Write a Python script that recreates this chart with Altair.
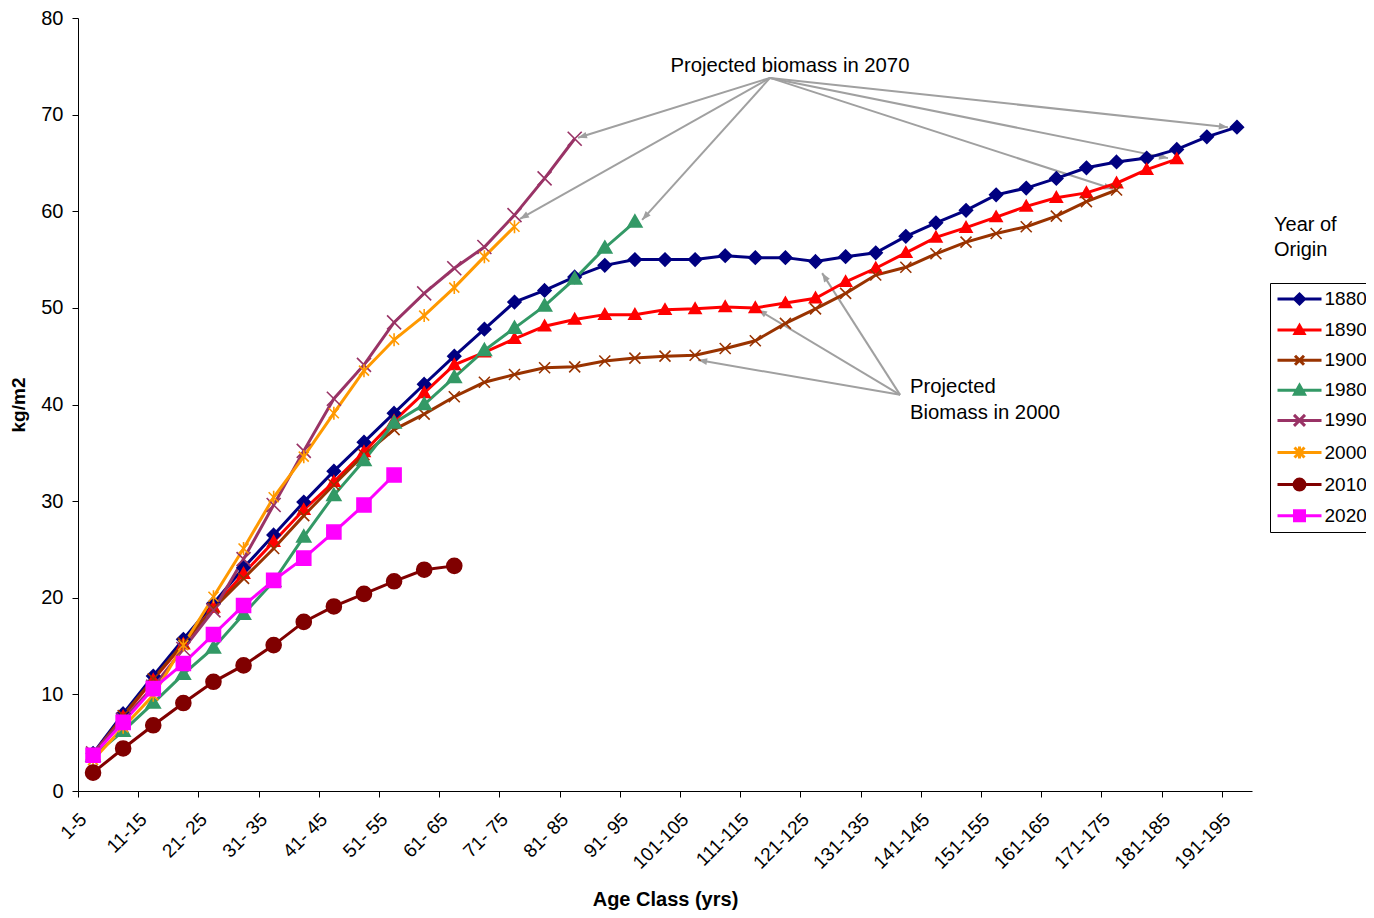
import math
import altair as alt
import pandas as pd

# ---------------- data ----------------
age_classes = ["1-5", "6-10", "11-15", "16-20", "21- 25", "26- 30", "31- 35", "36- 40",
               "41- 45", "46- 50", "51- 55", "56- 60", "61- 65", "66- 70", "71- 75",
               "76- 80", "81- 85", "86- 90", "91- 95", "96-100", "101-105", "106-110",
               "111-115", "116-120", "121-125", "126-130", "131-135", "136-140",
               "141-145", "146-150", "151-155", "156-160", "161-165", "166-170",
               "171-175", "176-180", "181-185", "186-190", "191-195"]

years = ["1880", "1890", "1900", "1980", "1990", "2000", "2010", "2020"]
colors = ["#000080", "#FF0000", "#993300", "#339966", "#993366", "#FF9900", "#800000", "#FF00FF"]

b1880 = [3.9, 8.0, 11.9, 15.7, 19.4, 23.1, 26.5, 29.9, 33.1, 36.1,
         39.1, 42.1, 45.0, 47.8, 50.6, 51.8, 53.2, 54.4, 55.0, 55.0,
         55.0, 55.4, 55.2, 55.2, 54.8, 55.3, 55.7, 57.4, 58.8, 60.1,
         61.7, 62.4, 63.4, 64.5, 65.1, 65.5, 66.4, 67.7, 68.7]
b1890 = [3.8, 7.7, 11.5, 15.2, 19.0, 22.5, 25.8, 29.1, 32.0, 35.1,
         38.3, 41.2, 44.1, 45.4, 46.8, 48.1, 48.8, 49.3, 49.3, 49.8,
         49.9, 50.1, 50.0, 50.5, 51.0, 52.7, 54.1, 55.7, 57.3, 58.3,
         59.4, 60.5, 61.4, 61.9, 62.9, 64.3, 65.4]
b1900 = [3.7, 7.8, 11.6, 15.3, 18.9, 22.0, 25.1, 28.5, 31.7, 34.8,
         37.4, 39.0, 40.8, 42.3, 43.1, 43.8, 43.9, 44.5, 44.8, 45.0,
         45.1, 45.8, 46.6, 48.4, 49.9, 51.5, 53.4, 54.2, 55.6, 56.8,
         57.7, 58.4, 59.5, 61.0, 62.2]
b1980 = [3.6, 6.2, 9.1, 12.1, 14.8, 18.3, 21.7, 26.3, 30.6, 34.2,
         38.1, 40.0, 42.8, 45.6, 47.9, 50.2, 53.0, 56.2, 58.9]
b1990 = [3.9, 7.4, 10.8, 14.7, 18.7, 24.0, 29.6, 35.2, 40.6, 44.1,
         48.5, 51.5, 54.1, 56.3, 59.6, 63.4, 67.5]
b2000 = [3.2, 6.6, 9.9, 15.1, 20.1, 25.1, 30.4, 34.6, 39.1, 43.5,
         46.7, 49.2, 52.1, 55.3, 58.4]
b2010 = [1.9, 4.4, 6.8, 9.1, 11.3, 13.0, 15.1, 17.5, 19.1, 20.4,
         21.7, 22.9, 23.3]
b2020 = [3.7, 7.1, 10.6, 13.2, 16.2, 19.2, 21.8, 24.1, 26.8, 29.6, 32.7]

series = {"1880": b1880, "1890": b1890, "1900": b1900, "1980": b1980,
          "1990": b1990, "2000": b2000, "2010": b2010, "2020": b2020}

# annotation anchors (age-class index, kg/m2)
ann2070_text = (23.15, 75.0)
ann2070_from = (22.49, 73.8)
ann2070_to = [(16.11, 67.6), (14.18, 59.2), (18.24, 59.1),
              (37.70, 68.7), (35.71, 65.5), (33.88, 62.3)]
ann2000_text = [(27.14, 41.8, "Projected"), (27.14, 39.1, "Biomass in 2000")]
ann2000_from = (26.81, 41.0)
ann2000_to = [(24.22, 53.6), (22.09, 49.8), (20.10, 44.6)]

# ---------------- layout / styles ----------------
FONT = "Liberation Sans"
W, H = 1174, 773
PX_X = W / 39.0
PX_Y = H / 80.0

rows = []
for yr in years:
    for i, v in enumerate(series[yr]):
        rows.append({"year": yr, "idx": i, "age": age_classes[i], "v": v})
df = pd.DataFrame(rows)

arrows = []
for (x2, y2) in ann2070_to:
    arrows.append((ann2070_from[0], ann2070_from[1], x2, y2))
for (x2, y2) in ann2000_to:
    arrows.append((ann2000_from[0], ann2000_from[1], x2, y2))
arr_rows = []
for (x1, y1, x2, y2) in arrows:
    dx = (x2 - x1) * PX_X
    dy = -(y2 - y1) * PX_Y
    ang = math.degrees(math.atan2(dy, dx)) % 360
    arr_rows.append({"x1": x1, "y1": y1, "x2": x2, "y2": y2, "ang": ang})
arr_df = pd.DataFrame(arr_rows)

xs = alt.Scale(domain=[-0.5, 38.5], nice=False, zero=False)
ys = alt.Scale(domain=[0, 80], nice=False, zero=True)
cscale = alt.Scale(domain=years, range=colors)

point_paths = [
    "M0,-1.3L1.3,0L0,1.3L-1.3,0Z",
    "M0,-1.2L1.2,0.9L-1.2,0.9Z",
    "M-1.1,-1.1L1.1,1.1M1.1,-1.1L-1.1,1.1",
    "M0,-1.4L1.4,1L-1.4,1Z",
    "M-1.4,-1.4L1.4,1.4M1.4,-1.4L-1.4,1.4",
    "M-1,-1L1,1M1,-1L-1,1M0,-1.3L0,1.3",
    "M-1.5,0A1.5,1.5,0,1,1,1.5,0A1.5,1.5,0,1,1,-1.5,0Z",
    "M-1.4,-1.4H1.4V1.4H-1.4Z",
]
LN = "M-0.85,0H3.55"
legend_paths = [
    LN + "M1.35,-0.5L1.85,0L1.35,0.5L0.85,0Z",
    LN + "M1.35,-0.45L1.8,0.35L0.9,0.35Z",
    LN + "M0.9,-0.45L1.8,0.45M1.8,-0.45L0.9,0.45",
    LN + "M1.35,-0.5L1.85,0.4L0.85,0.4Z",
    LN + "M0.8,-0.55L1.9,0.55M1.9,-0.55L0.8,0.55",
    LN + "M0.85,-0.5L1.85,0.5M1.85,-0.5L0.85,0.5M1.35,-0.6L1.35,0.6",
    LN + "M0.8,0A0.55,0.55,0,1,1,1.9,0A0.55,0.55,0,1,1,0.8,0Z",
    LN + "M0.85,-0.5H1.85V0.5H0.85Z",
]

# ticks at category boundaries; every other category labelled at its centre
x_values = [i - 0.5 for i in range(40)]
label_expr = "''"
for i in range(len(age_classes) - 1, -1, -1):
    if i % 2 == 0:
        label_expr = f"datum.value == {i - 0.5} ? '{age_classes[i]}' : ({label_expr})"

xaxis = alt.Axis(
    values=x_values, grid=False, tickSize=6, tickColor="black", domainColor="black",
    labelExpr=label_expr,
    labelAngle=315, labelAlign="right", labelBaseline="middle",
    labelFontSize=19, labelFont=FONT, labelColor="black",
    labelPadding=19, labelOffset=5, labelOverlap=False, labelBound=False, labelFlush=False,
    title="Age Class (yrs)", titleFont=FONT, titleFontSize=20, titleFontWeight="bold",
    titleColor="black", titleY=108, titleBaseline="middle",
)
yaxis = alt.Axis(
    values=list(range(0, 81, 10)), grid=False, tickSize=6, tickColor="black",
    domainColor="black", labelFontSize=20, labelFont=FONT, labelColor="black",
    labelPadding=9,
    title="kg/m2", titleFont=FONT, titleFontSize=19, titleFontWeight="bold",
    titleColor="black", titleX=-60, titleY=H / 2, titleAngle=270,
    titleAlign="center", titleBaseline="middle",
)

lines = alt.Chart(df).mark_line(strokeWidth=3).encode(
    x=alt.X("idx:Q", scale=xs, axis=xaxis),
    y=alt.Y("v:Q", scale=ys, axis=yaxis),
    color=alt.Color("year:N", scale=cscale, legend=None),
)

points = alt.Chart(df).mark_point(filled=True, size=100, strokeWidth=1.6, opacity=1).encode(
    x=alt.X("idx:Q", scale=xs),
    y=alt.Y("v:Q", scale=ys),
    color=alt.Color("year:N", scale=cscale, legend=None),
    stroke=alt.Stroke("year:N", scale=cscale, legend=None),
    shape=alt.Shape("year:N", scale=alt.Scale(domain=years, range=point_paths), legend=None),
)

leg = alt.Legend(
    orient="none", legendX=1192, legendY=265, title=None,
    padding=4.5, symbolSize=400, symbolStrokeWidth=3, symbolOpacity=1,
    labelFont=FONT, labelFontSize=19, labelColor="black", labelOffset=27,
    rowPadding=8.1, strokeColor="black", fillColor="white", cornerRadius=0,
    labelLimit=0,
)
legend_layer = alt.Chart(df).transform_filter("datum.v < -999").mark_point(
    filled=True, size=400, strokeWidth=3, opacity=1
).encode(
    x=alt.X("idx:Q", scale=xs),
    y=alt.Y("v:Q", scale=ys),
    color=alt.Color("year:N", scale=cscale, legend=leg),
    stroke=alt.Stroke("year:N", scale=cscale, legend=leg),
    shape=alt.Shape("year:N", scale=alt.Scale(domain=years, range=legend_paths), legend=leg),
)

ARROW = "#A0A0A0"
rules = alt.Chart(arr_df).mark_rule(color=ARROW, strokeWidth=2).encode(
    x=alt.X("x1:Q", scale=xs), y=alt.Y("y1:Q", scale=ys), x2="x2:Q", y2="y2:Q"
)
heads = alt.Chart(arr_df).mark_point(
    filled=True, shape="M0,0L-2,-0.75L-2,0.75Z", size=81, color=ARROW, opacity=1
).encode(
    x=alt.X("x2:Q", scale=xs), y=alt.Y("y2:Q", scale=ys),
    angle=alt.Angle("ang:Q", scale=None),
)

t2070 = alt.Chart(pd.DataFrame([{"x": ann2070_text[0], "y": ann2070_text[1],
                                 "t": "Projected biomass in 2070"}])).mark_text(
    font=FONT, fontSize=20.3, align="center", baseline="middle", color="black"
).encode(x=alt.X("x:Q", scale=xs), y=alt.Y("y:Q", scale=ys), text="t:N")

t2000 = alt.Chart(pd.DataFrame([{"x": a, "y": b, "t": t} for a, b, t in ann2000_text])).mark_text(
    font=FONT, fontSize=20.3, align="left", baseline="middle", color="black"
).encode(x=alt.X("x:Q", scale=xs), y=alt.Y("y:Q", scale=ys), text="t:N")

one = pd.DataFrame({"a": [0]})
lt1 = alt.Chart(one).mark_text(text="Year of", font=FONT, fontSize=20, align="left",
                               baseline="middle", color="black").encode(
    x=alt.value(1196), y=alt.value(207))
lt2 = alt.Chart(one).mark_text(text="Origin", font=FONT, fontSize=20, align="left",
                               baseline="middle", color="black").encode(
    x=alt.value(1196), y=alt.value(232))

chart = alt.layer(
    rules, heads, lines, points, legend_layer, t2070, t2000, lt1, lt2
).resolve_scale(
    color="independent", stroke="independent", shape="independent"
).properties(
    width=W, height=H,
    autosize=alt.AutoSizeParams(type="none"),
    padding={"left": 70, "top": 10, "right": 114, "bottom": 121},
).configure(font=FONT).configure_view(strokeWidth=0)

chart.save("out.html", embed_options={"renderer": "svg", "actions": False})
